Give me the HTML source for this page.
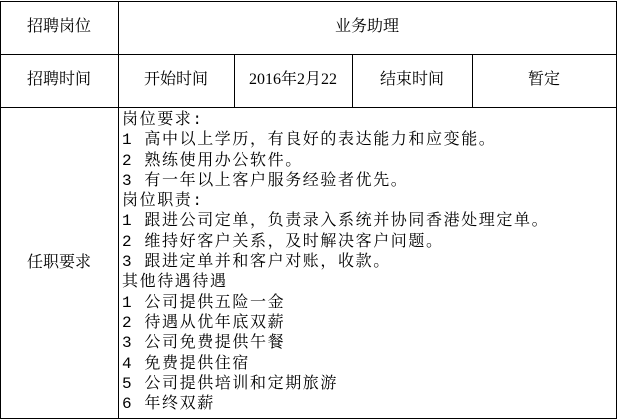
<!DOCTYPE html>
<html><head><meta charset="utf-8"><style>
body{margin:0;background:#fff;width:617px;height:420px;overflow:hidden;font-family:"Liberation Serif","Noto Serif CJK SC",serif;color:#000}
.l{position:absolute;background:#000}
.t{position:absolute;font-size:16px;text-align:center;line-height:20px}
.c{position:absolute;left:122px;top:110px;font-size:16px;line-height:20.3px;white-space:pre;letter-spacing:1.6px;font-family:"Liberation Mono","Noto Serif CJK SC",monospace}
</style></head><body>
<div class="l" style="left:0;top:1px;width:617px;height:1px"></div>
<div class="l" style="left:0;top:54px;width:617px;height:1px"></div>
<div class="l" style="left:0;top:107px;width:617px;height:1px"></div>
<div class="l" style="left:0;top:418px;width:617px;height:1px"></div>
<div class="l" style="left:0;top:1px;width:1px;height:418px"></div>
<div class="l" style="left:616px;top:1px;width:1px;height:418px"></div>
<div class="l" style="left:118px;top:1px;width:1px;height:418px"></div>
<div class="l" style="left:234px;top:54px;width:1px;height:54px"></div>
<div class="l" style="left:352px;top:54px;width:1px;height:54px"></div>
<div class="l" style="left:472px;top:54px;width:1px;height:54px"></div>
<div class="t" style="left:0;width:118px;top:17px">招聘岗位</div>
<div class="t" style="left:118px;width:498px;top:17px">业务助理</div>
<div class="t" style="left:0;width:118px;top:70px">招聘时间</div>
<div class="t" style="left:118px;width:116px;top:70px">开始时间</div>
<div class="t" style="left:234px;width:118px;top:70px">2016年2月22</div>
<div class="t" style="left:352px;width:120px;top:70px">结束时间</div>
<div class="t" style="left:472px;width:144px;top:70px">暂定</div>
<div class="t" style="left:0;width:118px;top:253px">任职要求</div>
<div class="c">岗位要求:
1 高中以上学历，有良好的表达能力和应变能。
2 熟练使用办公软件。
3 有一年以上客户服务经验者优先。
岗位职责:
1 跟进公司定单，负责录入系统并协同香港处理定单。
2 维持好客户关系，及时解决客户问题。
3 跟进定单并和客户对账，收款。
其他待遇待遇
1 公司提供五险一金
2 待遇从优年底双薪
3 公司免费提供午餐
4 免费提供住宿
5 公司提供培训和定期旅游
6 年终双薪</div>
</body></html>
